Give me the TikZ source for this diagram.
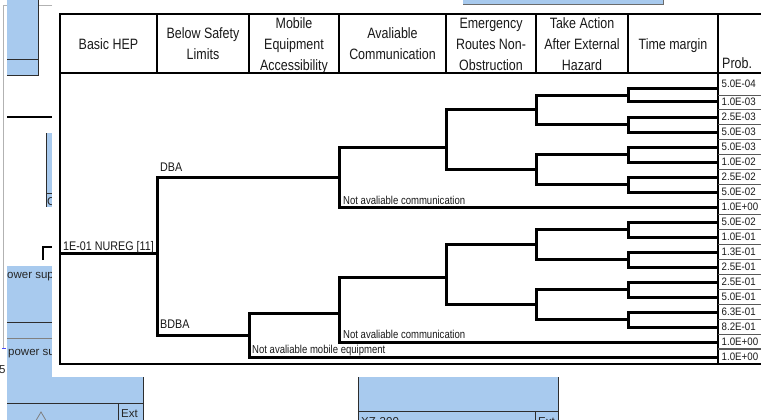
\documentclass[tikz,border=0pt]{standalone}
\usepackage{fontspec}
\setmainfont{Liberation Sans}
\usepackage{graphicx}
\definecolor{bgblue}{RGB}{168,202,238}
\definecolor{edge}{RGB}{45,45,45}
\definecolor{txt}{RGB}{25,25,25}
\newcommand\hd[1]{\scalebox{0.83}[1]{\begin{tabular}{@{}c@{}}#1\end{tabular}}}
\newcommand\nx[1]{\scalebox{0.83}[1]{#1}}
\newcommand\tfork[6]{%
  \coordinate (#1a) at (#2,#3); \coordinate (#1b) at (#2,#4);
  \coordinate (#1c) at (#5,#3); \coordinate (#1d) at (#6,#4);
  \draw[tree] (#1c) -- (#1a) -- (#1b) -- (#1d);}
\tikzset{
  tree/.style={line width=3pt, line join=miter, black},
  frame/.style={line width=2.2pt, black},
  cellsep/.style={line width=1.1pt, black!65},
  hdr/.style={inner sep=0pt, font=\fontsize{15}{21}\selectfont, text=txt},
  lbl/.style={inner sep=0pt, anchor=base west, font=\fontsize{11.5}{13}\selectfont, text=txt},
  prob/.style={inner sep=0pt, anchor=west, font=\fontsize{10.8}{12}\selectfont, text=txt},
  bgline/.style={draw=edge, line width=1pt},
  bgtxt/.style={inner sep=0pt, anchor=base west, font=\fontsize{11.5}{13}\selectfont, text=black!85},
}
\begin{document}
\begin{tikzpicture}[x=1pt,y=-1pt]
\useasboundingbox (0,0) rectangle (761,420);
\fill[white] (0,0) rectangle (761,420);

% ---------- background window fragments ----------
\draw[gray!60, line width=0.8pt] (52,5) -- (3,5) -- (3,348);
\draw[blue!70, line width=1pt] (2,348) -- (6,348);
\fill[bgblue] (7,0) rectangle (38,76);
\draw[bgline] (38,0) -- (38,76) -- (7,76);
\draw[bgline, line width=0.8pt] (7,59) -- (38,59);
\draw[black, line width=1.6pt] (7,117) -- (53,117);
\fill[bgblue] (46,133) rectangle (54,207);
\draw[bgline] (46,133) -- (46,207);
\draw[bgline, line width=0.7pt] (46,193) -- (54,193);
\node[bgtxt, name=bgC] at (47,205) {C};
\draw[black, line width=1.6pt] (43,260) -- (43,247) -- (54,247);
\fill[bgblue] (7,266) rectangle (143,420);
\node[bgtxt, name=bgpw1] at (7,278) {ower supp};
\draw[bgline] (7,322) -- (54,322);
\draw[bgline, line width=0.6pt, draw=edge!60] (7,338) -- (54,338);
\node[bgtxt, name=bgpw2] at (8,355) {power sup};
\draw[bgline] (143,370) -- (143,420);
\draw[bgline] (7,403) -- (143,403);
\draw[bgline] (118,403) -- (118,420);
\node[bgtxt, name=bgext1] at (121,417) {Ext};
\node[bgtxt, name=bgfive] at (-1,373) {5};
\draw[gray, line width=0.8pt] (36,420.5) -- (41,412) -- (46,420.5);
\fill[bgblue] (358,370) rectangle (558,420);
\draw[bgline] (358,370) -- (358,420);
\draw[bgline] (558,370) -- (558,420);
\draw[bgline] (358,411) -- (558,411);
\draw[bgline] (535,411) -- (535,420);
\node[bgtxt, name=bgxz] at (361,425) {XZ-300};
\node[bgtxt, name=bgext2] at (538,425) {Ext};
\fill[bgblue] (463,0) rectangle (663,4.5);
\draw[draw=edge!70, line width=1pt] (463,4.5) -- (663,4.5) -- (663,0);

% ---------- main panel ----------
\fill[white] (52,9) rectangle (761,377);

% frame and header
\draw[frame] (761,14) -- (60,14) -- (60,364) -- (761,364);
\foreach \x in {157,249,339,446,536,628,718} \draw[frame] (\x,14) -- (\x,73);
\draw[frame] (718,73) -- (718,364);

\node[hdr, name=h1] at (108.5,45) {\hd{Basic HEP}};
\node[hdr, name=h2] at (203,45) {\hd{Below Safety\\Limits}};
\node[hdr, name=h3] at (294,45) {\hd{Mobile\\Equipment\\Accessibility}};
\node[hdr, name=h4] at (392.5,45) {\hd{Avaliable\\Communication}};
\node[hdr, name=h5] at (491,45) {\hd{Emergency\\Routes Non-\\Obstruction}};
\node[hdr, name=h6] at (582,45) {\hd{Take Action\\After External\\Hazard}};
\node[hdr, name=h7] at (673,45) {\hd{Time margin}};
\node[hdr, anchor=base west, name=h8] at (722,69) {\nx{Prob.}};
\draw[frame] (60,73) -- (761,73);

% prob column cell separators
\foreach \y in {95.5,109.5,124.5,139.5,154.5,169.5,184.5,199.5,214.5,229.5,244.5,259.5,274.5,289.5,304.5,319.5,334.5,349}
  \draw[cellsep] (718,\y) -- (761,\y);

% ---------- event tree ----------
\coordinate (root) at (60,253);
\coordinate (rootj) at (157,253);
\draw[tree] (root) -- (rootj);
\tfork{A}{157}{177}{335}{339}{249}
\tfork{B}{339}{147}{207.5}{446}{718}
\tfork{C}{446}{110}{169.5}{536}{536}
\tfork{D}{536}{95.5}{124.5}{628}{628}
\tfork{E}{628}{89}{102}{718}{718}
\tfork{F}{628}{117}{132}{718}{718}
\tfork{G}{536}{154.5}{184.5}{628}{628}
\tfork{H}{628}{147}{162}{718}{718}
\tfork{I}{628}{177}{192}{718}{718}
\tfork{J}{249}{313}{357}{339}{718}
\tfork{K}{339}{277}{342}{446}{718}
\tfork{L}{446}{244.5}{304.5}{536}{536}
\tfork{M}{536}{229.5}{259.5}{628}{628}
\tfork{N}{628}{222}{237}{718}{718}
\tfork{O}{628}{252}{267}{718}{718}
\tfork{P}{536}{289.5}{319.5}{628}{628}
\tfork{Q}{628}{282}{297}{718}{718}
\tfork{R}{628}{312}{327}{718}{718}

% tree labels
\node[lbl, name=nureg, font=\fontsize{12.5}{14}\selectfont] at (63,250) {\scalebox{0.86}[1]{1E-01 NUREG [11]}};
\node[lbl, name=dba, font=\fontsize{12.5}{14}\selectfont] at (160,171) {\scalebox{0.86}[1]{DBA}};
\node[lbl, name=bdba, font=\fontsize{12.5}{14}\selectfont] at (160,328) {\scalebox{0.86}[1]{BDBA}};
\node[lbl, name=nac1] at (343,204) {\nx{Not avaliable communication}};
\node[lbl, name=nac2] at (343,338.5) {\nx{Not avaliable communication}};
\node[lbl, name=name] at (252,353) {\nx{Not avaliable mobile equipment}};

% probabilities
\foreach \y/\t [count=\i] in {83.5/5.0E-04,102/1.0E-03,117/2.5E-03,132/5.0E-03,147/5.0E-03,162/1.0E-02,177/2.5E-02,192/5.0E-02,207/1.0E+00,222/5.0E-02,237/1.0E-01,252/1.3E-01,267/2.5E-01,282/2.5E-01,297/5.0E-01,312/6.3E-01,327/8.2E-01,342/1.0E+00,356.5/1.0E+00}
  \node[prob, name=p\i] at (721.5,\y) {\scalebox{0.9}[1]{\t}};
\end{tikzpicture}
\end{document}
